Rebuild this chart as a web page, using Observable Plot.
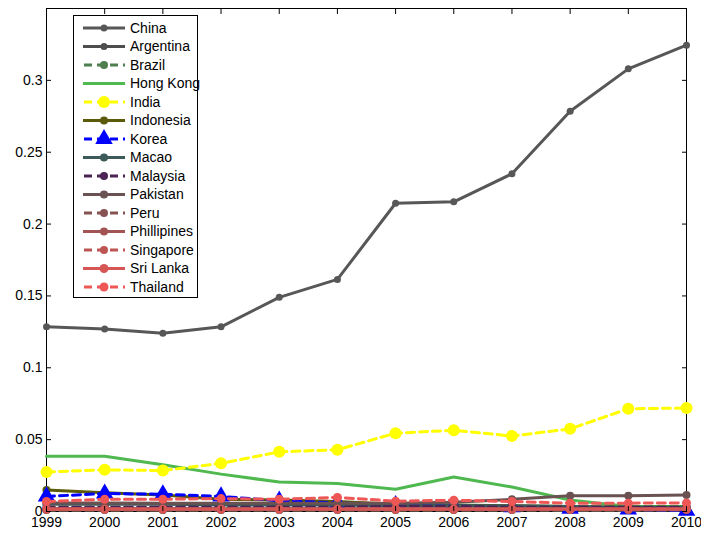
<!DOCTYPE html>
<html><head><meta charset="utf-8">
<script src="https://cdn.jsdelivr.net/npm/d3@7"></script>
<script src="https://cdn.jsdelivr.net/npm/@observablehq/plot@0.6"></script>
<style>body{margin:0;background:#fff}#chart{position:relative;width:701px;height:536px}</style>
</head><body><div id="chart"></div>
<script>
const years = [1999,2000,2001,2002,2003,2004,2005,2006,2007,2008,2009,2010];
const china      = [0.1285,0.1270,0.1240,0.1285,0.1490,0.1615,0.2145,0.2155,0.2350,0.2785,0.3080,0.3245];
const argentina  = [0.0020,0.0020,0.0020,0.0015,0.0015,0.0015,0.0015,0.0015,0.0015,0.0010,0.0010,0.0010];
const brazil     = [0.0010,0.0010,0.0010,0.0010,0.0010,0.0010,0.0010,0.0010,0.0010,0.0010,0.0010,0.0010];
const hongKong   = [0.0385,0.0385,0.0325,0.0260,0.0205,0.0195,0.0155,0.0240,0.0170,0.0080,0.0035,0.0035];
const india      = [0.0275,0.0290,0.0285,0.0335,0.0415,0.0430,0.0545,0.0565,0.0525,0.0575,0.0715,0.0720];
const indonesia  = [0.0150,0.0130,0.0115,0.0085,0.0080,0.0070,0.0050,0.0045,0.0040,0.0035,0.0030,0.0030];
const korea      = [0.0105,0.0125,0.0120,0.0105,0.0075,0.0060,0.0045,0.0040,0.0030,0.0020,0.0015,0.0005];
const macao      = [0.0050,0.0050,0.0050,0.0045,0.0045,0.0045,0.0040,0.0040,0.0040,0.0035,0.0030,0.0030];
const malaysia   = [0.0030,0.0030,0.0030,0.0030,0.0030,0.0030,0.0035,0.0035,0.0030,0.0030,0.0030,0.0030];
const pakistan   = [0.0060,0.0060,0.0058,0.0058,0.0058,0.0058,0.0058,0.0065,0.0085,0.0110,0.0110,0.0115];
const peru       = [0.0010,0.0010,0.0010,0.0010,0.0010,0.0010,0.0010,0.0010,0.0010,0.0010,0.0010,0.0010];
const phillipines= [0.0020,0.0020,0.0020,0.0020,0.0020,0.0020,0.0020,0.0020,0.0020,0.0020,0.0020,0.0020];
const singapore  = [0.0020,0.0020,0.0020,0.0020,0.0020,0.0020,0.0020,0.0020,0.0020,0.0020,0.0020,0.0020];
const sriLanka   = [0.0015,0.0015,0.0015,0.0015,0.0015,0.0015,0.0015,0.0015,0.0015,0.0015,0.0015,0.0015];
const thailand   = [0.0070,0.0085,0.0085,0.0090,0.0085,0.0098,0.0072,0.0078,0.0070,0.0058,0.0058,0.0060];

const seriesNames = ["China","Argentina","Brazil","Hong Kong","India","Indonesia","Korea","Macao","Malaysia","Pakistan","Peru","Phillipines","Singapore","Sri Lanka","Thailand"];
const seriesValues = [china,argentina,brazil,hongKong,india,indonesia,korea,macao,malaysia,pakistan,peru,phillipines,singapore,sriLanka,thailand];
const yTicks = [0,0.05,0.1,0.15,0.2,0.25,0.3];

// styles
const colors = ["#575757","#4e4e4e","#4f7f4f","#4fb84f","#ffff00","#5a5a08","#0000ff","#3d5a5a","#4b2355","#6a5252","#875252","#a25454","#bd5555","#d65656","#ef5656"];
const dashed = [false,false,true,false,true,false,true,false,true,false,true,false,true,false,true];
const symbols = ["circle","circle","circle","plus","circle","circle","triangle","circle","circle","circle","circle","circle","circle","circle","circle"];
const radii = [3.5,3.5,4,3.5,6,4,6.5,4,4,4,4,4,4,4.5,4.5];

const rows = seriesNames.flatMap((name, i) => seriesValues[i].map((v, j) => ({name, year: years[j], value: v})));

const marks = [Plot.frame({stroke: "black"})];
seriesNames.forEach((name, i) => {
  const d = rows.filter(r => r.name === name);
  marks.push(Plot.line(d, {x: "year", y: "value", stroke: colors[i], strokeWidth: 3, strokeDasharray: dashed[i] ? "8,5" : null}));
  marks.push(Plot.dot(d, {x: "year", y: "value", fill: colors[i], stroke: "none", symbol: symbols[i], r: radii[i]}));
});
// labels
marks.push(Plot.axisX(years, {anchor: "bottom", tickSize: 0, tickPadding: 6, tickFormat: d => String(d), label: null}));
marks.push(Plot.axisY(yTicks, {anchor: "left", tickSize: 0, tickPadding: 4, tickFormat: d => String(d), label: null}));
// inward ticks on all sides
marks.push(Plot.axisX(years, {anchor: "bottom", tickSize: 5, dy: -5, tickFormat: () => "", label: null}));
marks.push(Plot.axisX(years, {anchor: "top", tickSize: 5, dy: 5, tickFormat: () => "", label: null}));
marks.push(Plot.axisY(yTicks, {anchor: "left", tickSize: 5, dx: 5, tickFormat: () => "", label: null}));
marks.push(Plot.axisY(yTicks, {anchor: "right", tickSize: 5, dx: -5, tickFormat: () => "", label: null}));

const chart = Plot.plot({
  width: 701, height: 536,
  marginLeft: 46, marginRight: 15, marginTop: 8, marginBottom: 25,
  x: {domain: [1999, 2010]},
  y: {domain: [0, 0.35]},
  style: {fontFamily: "'Liberation Sans', Arial, sans-serif", fontSize: "14px", color: "black", background: "white"},
  marks
});
document.getElementById("chart").appendChild(chart);

// legend
const svg = d3.select(chart);
const lg = svg.append("g");
lg.append("rect").attr("x", 73.5).attr("y", 15.5).attr("width", 124).attr("height", 282)
  .attr("fill", "white").attr("stroke", "black");
seriesNames.forEach((name, i) => {
  const y = 28 + i * 18.5;
  lg.append("line").attr("x1", 83).attr("x2", 125).attr("y1", y).attr("y2", y)
    .attr("stroke", colors[i]).attr("stroke-width", 3)
    .attr("stroke-dasharray", dashed[i] ? "8,5" : null).attr("stroke-dashoffset", dashed[i] ? -1 : null);
  const sym = {circle: d3.symbolCircle, plus: d3.symbolPlus, triangle: d3.symbolTriangle}[symbols[i]];
  const r = radii[i];
  lg.append("path").attr("transform", `translate(104,${y})`)
    .attr("d", d3.symbol(sym, Math.PI * r * r)()).attr("fill", colors[i]);
  lg.append("text").attr("x", 130).attr("y", y).attr("dy", "0.35em")
    .attr("text-anchor", "start").attr("font-size", 14).attr("fill", "black").text(name);
});
</script></body></html>
